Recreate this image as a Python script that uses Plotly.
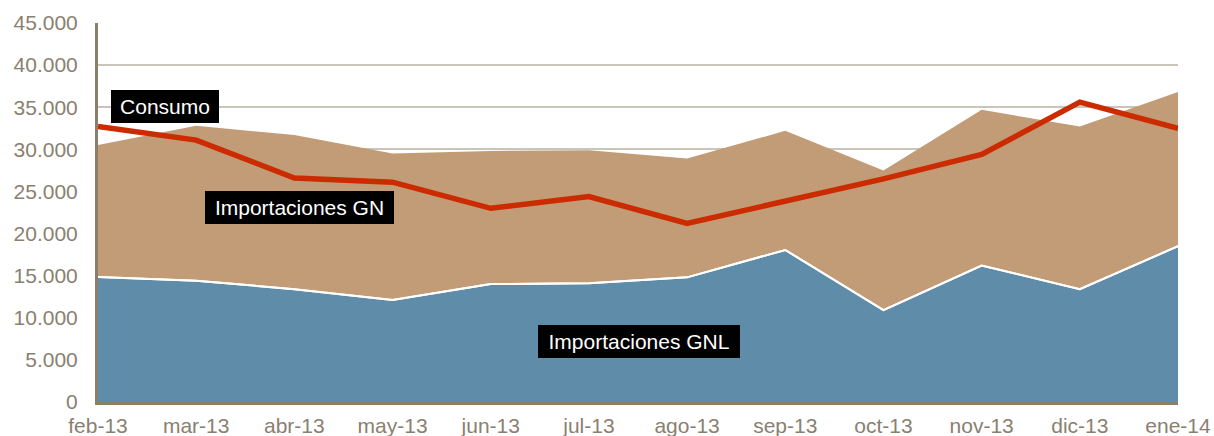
import plotly.graph_objects as go

# Monthly gas balance
meses = ["feb-13", "mar-13", "abr-13", "may-13", "jun-13", "jul-13",
         "ago-13", "sep-13", "oct-13", "nov-13", "dic-13", "ene-14"]
importaciones_gnl = [14850, 14400, 13400, 12100, 14000, 14100,
                     14800, 18050, 10900, 16200, 13400, 18500]
importaciones_gn = [15650, 18400, 18300, 17400, 15800, 15800,
                    14100, 14150, 16600, 18500, 19300, 18300]
consumo = [32700, 31100, 26600, 26100, 23000, 24400,
           21200, 23900, 26500, 29400, 35600, 32500]

y_ticks = list(range(0, 45001, 5000))

tick_color = "#8a8070"
axis_color = "#8b7f6a"
grid_color = "#c9c5ba"
font_family = "Liberation Sans, Arial, sans-serif"

fig = go.Figure()

fig.add_trace(go.Scatter(
    x=meses, y=importaciones_gnl, name="Importaciones GNL",
    stackgroup="imp", mode="lines",
    line=dict(color="#ffffff", width=2),
    fillcolor="#5f8ca8",
))
fig.add_trace(go.Scatter(
    x=meses, y=importaciones_gn, name="Importaciones GN",
    stackgroup="imp", mode="lines",
    line=dict(color="#c19c76", width=0),
    fillcolor="#c19c76",
))
# white edge between the two stacked areas
fig.add_trace(go.Scatter(
    x=meses, y=importaciones_gnl, mode="lines",
    line=dict(color="#ffffff", width=2), hoverinfo="skip",
))
fig.add_trace(go.Scatter(
    x=meses, y=consumo, name="Consumo", mode="lines",
    line=dict(color="#cc2b00", width=5.5),
))

label_font = dict(family=font_family, size=21, color="#ffffff")
for txt, xi, yi, w in [("Consumo", 0.68, 35050, 108),
                       ("Importaciones GN", 2.05, 23050, 189),
                       ("Importaciones GNL", 5.51, 7180, 202)]:
    fig.add_annotation(
        x=xi, y=yi, xref="x", yref="y", text=txt, showarrow=False,
        font=label_font, bgcolor="#000000", borderpad=0, borderwidth=0,
        width=w, height=33, align="center", valign="middle",
    )

fig.update_layout(
    width=1214, height=436,
    margin=dict(l=98, r=36, t=23, b=34),
    paper_bgcolor="#ffffff", plot_bgcolor="#ffffff",
    showlegend=False,
    separators=",.",
    font=dict(family=font_family, size=21, color=tick_color),
)
fig.update_xaxes(
    type="category", range=[0, 11], automargin=False,
    showgrid=False, showline=True, linecolor=axis_color, linewidth=3,
    ticks="", ticklabelstandoff=3,
    tickfont=dict(family=font_family, size=21, color=tick_color),
)
fig.update_yaxes(
    range=[0, 45000], tickvals=y_ticks, tickformat=",d", automargin=False,
    showgrid=True, gridcolor=grid_color, gridwidth=2,
    showline=True, linecolor=axis_color, linewidth=3,
    zeroline=False, ticks="", ticklabelstandoff=13,
    tickfont=dict(family=font_family, size=21, color=tick_color),
)

fig.write_html("out.html")
